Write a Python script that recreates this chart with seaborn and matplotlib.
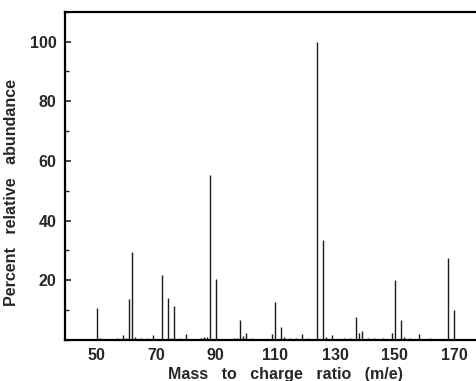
import matplotlib
matplotlib.use("Agg")
import matplotlib.pyplot as plt
from matplotlib.ticker import MultipleLocator, FixedLocator
import seaborn as sns
import pandas as pd

# ─── Data ───────────────────────────────────────────────────────────────────
mz_major = [50, 59, 61, 62, 69, 72, 74, 76, 80, 88, 90, 98, 99, 100, 109, 110,
            112, 119, 124, 126, 129, 137, 138, 139, 149, 150, 152, 158, 168, 170]
abundance_major = [10.8, 1.7, 13.8, 29.5, 1.7, 21.7, 14.1, 11.3, 2.0, 55.3, 20.5,
                   6.8, 1.5, 2.4, 2.0, 12.7, 4.5, 2.0, 100.0, 33.4, 1.7, 7.6, 2.4,
                   3.1, 2.4, 20.0, 6.7, 2.0, 27.6, 10.2]

# small baseline peaks
mz_minor = [44, 51, 55, 57, 60, 63, 65, 67, 75, 78, 85, 86, 87, 96, 97, 102, 104,
            113, 115, 117, 121, 127, 133, 135, 141, 143, 146, 153, 155, 162, 164]
abundance_minor = [0.5, 0.6, 0.5, 0.7, 0.8, 1.0, 0.6, 0.7, 0.8, 0.6, 0.7, 0.9, 1.1,
                   0.6, 0.8, 0.7, 0.5, 0.9, 0.6, 0.7, 0.8, 1.0, 0.6, 0.7, 0.8, 0.6,
                   0.7, 1.0, 0.6, 0.7, 0.5]

y_major_ticks = [20, 40, 60, 80, 100]
x_ticks = [50, 70, 90, 110, 130, 150, 170]

df = pd.DataFrame({
    "mz": mz_major + mz_minor,
    "abundance": abundance_major + abundance_minor,
})

# ─── Style ──────────────────────────────────────────────────────────────────
sns.set_style("white")
plt.rcParams["font.family"] = ["Liberation Sans", "DejaVu Sans"]

fig = plt.figure(figsize=(4.77, 3.81), dpi=100)
ax = fig.add_axes([0.1363, 0.1076, 0.8637, 0.8617])

ax.vlines(df["mz"], 0, df["abundance"], color="#1a1a1a", linewidth=1.0)

ax.set_xlim(39.4, 177.6)
ax.set_ylim(0, 110)

ax.xaxis.set_major_locator(FixedLocator(x_ticks))
ax.yaxis.set_major_locator(FixedLocator(y_major_ticks))
ax.yaxis.set_minor_locator(MultipleLocator(10))

ax.tick_params(axis="y", which="major", direction="in", length=4, width=1.2,
               labelsize=11.5, pad=6, left=True)
ax.tick_params(axis="y", which="minor", direction="in", length=3, width=1, left=True)
ax.tick_params(axis="x", which="major", length=0, labelsize=11.5, pad=6)
for lab in ax.get_xticklabels() + ax.get_yticklabels():
    lab.set_fontweight("bold")

# wide word spacing like the typeset original
ax.set_xlabel("Mass   to   charge   ratio   (m/e)",
              fontsize=11.5, fontweight="bold")
ax.set_ylabel("Percent   relative   abundance",
              fontsize=11.5, fontweight="bold")
ax.xaxis.set_label_coords(0.534, -0.082)
ax.yaxis.set_label_coords(-0.112, 0.45)

sns.despine(ax=ax, right=True, top=False)
for side in ["left", "bottom", "top"]:
    ax.spines[side].set_color("black")
    ax.spines[side].set_linewidth(1.6)

fig.savefig("out.png", dpi=100, facecolor="white")
plt.close()
